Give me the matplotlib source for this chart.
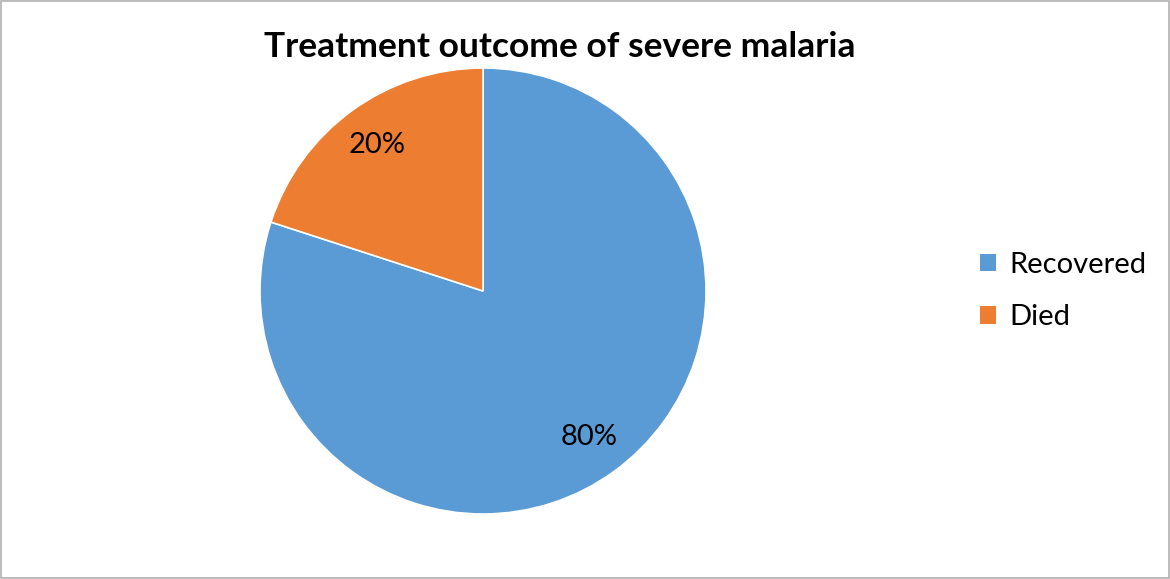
import matplotlib.pyplot as plt
from matplotlib.patches import Rectangle, Patch

# treatment outcome shares
outcomes = ["Recovered", "Died"]
shares = [80, 20]
colors = ["#5B9BD5", "#ED7D31"]

plt.rcParams['font.family'] = ['Lato', 'DejaVu Sans']

W, H = 1170, 579
fig = plt.figure(figsize=(W / 100, H / 100), dpi=100)

# pie axes: centre (483, 291) px, radius 223 px
cx, cy, r = 483, 291, 223
ax = fig.add_axes([(cx - r) / W, (H - cy - r) / H, 2 * r / W, 2 * r / H])
wedges, texts, autotexts = ax.pie(
    shares, colors=colors, startangle=90, counterclock=False,
    autopct='%1.0f%%', pctdistance=0.81, radius=1,
    wedgeprops=dict(edgecolor='white', linewidth=1.2),
    textprops=dict(fontsize=21, color='black'))
ax.set_xlim(-1, 1)
ax.set_ylim(-1, 1)
ax.set_aspect('equal')
ax.axis('off')

fig.text(560 / W, 1 - 47 / H, "Treatment outcome of severe malaria",
         ha='center', va='center', fontsize=25.5, fontweight='bold')

handles = [Patch(facecolor=c, edgecolor='none') for c in colors]
fig.legend(handles, outcomes, loc='center left',
           bbox_to_anchor=(980 / W, 1 - 291 / H), frameon=False,
           fontsize=21, handlelength=0.55, handleheight=0.55,
           handletextpad=0.45, labelspacing=0.9,
           borderpad=0, borderaxespad=0)

# outer chart border
fig.add_artist(Rectangle((0.5 / W, 1.5 / H), (W - 2) / W, (H - 2.5) / H,
                         transform=fig.transFigure, fill=False,
                         edgecolor='#b0b0b0', linewidth=1.2))

fig.savefig("out.png", dpi=100)
